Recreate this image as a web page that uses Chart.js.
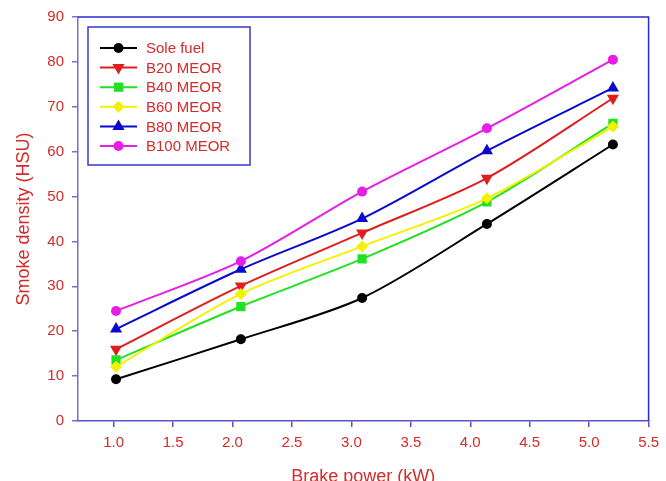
<!DOCTYPE html>
<html>
<head>
<meta charset="utf-8">
<style>
	html, body { margin: 0; padding: 0; background: #fff; overflow: hidden; }
	#wrap { width: 666px; height: 481px; }
</style>
<script src="https://cdn.jsdelivr.net/npm/chart.js@4"></script>
</head>
<body>
<div id="wrap"><canvas id="smoke-chart" width="666" height="481"></canvas></div>
<script>
'use strict';

// Brake power (kW) at each load step
var brakePower = [1.02, 2.07, 3.09, 4.14, 5.20];

// Smoke density (HSU) per fuel
var seriesNames = ['Sole fuel', 'B20 MEOR', 'B40 MEOR', 'B60 MEOR', 'B80 MEOR', 'B100 MEOR'];
var soleFuel = [9.3, 18.2, 27.4, 43.9, 61.6];
var b20 = [16.0, 30.1, 41.9, 54.1, 71.9];
var b40 = [13.6, 25.5, 36.1, 48.8, 66.3];
var b60 = [12.1, 28.3, 38.9, 49.6, 65.6];
var b80 = [20.5, 33.8, 45.1, 60.2, 74.2];
var b100 = [24.5, 35.6, 51.1, 65.2, 80.5];

var xTicks = [1.0, 1.5, 2.0, 2.5, 3.0, 3.5, 4.0, 4.5, 5.0, 5.5];
var yTicks = [0, 10, 20, 30, 40, 50, 60, 70, 80, 90];

var textRed = '#d42b2b';
var axisBlue = '#5454c4';
var frameBlue = '#2a2ad0';
var fontFamily = 'Arial, "Liberation Sans", sans-serif';

var styles = [
	{ color: '#000000', point: 'circle', rotation: 0, radius: 5 },
	{ color: '#e01e1e', point: 'triangle', rotation: 180, radius: 7 },
	{ color: '#22e022', point: 'rect', rotation: 0, radius: 6.5 },
	{ color: '#f2f200', point: 'rectRot', rotation: 0, radius: 6 },
	{ color: '#0a0acc', point: 'triangle', rotation: 0, radius: 7 },
	{ color: '#e61ee6', point: 'circle', rotation: 0, radius: 5 }
];
var allValues = [soleFuel, b20, b40, b60, b80, b100];

function toPoints(values) {
	return values.map(function(v, i) {
		return { x: brakePower[i], y: v };
	});
}

var datasets = allValues.map(function(values, i) {
	var s = styles[i];
	return {
		label: seriesNames[i],
		data: toPoints(values),
		borderColor: s.color,
		backgroundColor: s.color,
		borderWidth: 2,
		pointStyle: s.point,
		rotation: s.rotation,
		pointRadius: s.radius,
		pointBorderWidth: 0,
		tension: 0.3,
		order: 6 - i
	};
});

// top and right border of the plot frame
var framePlugin = {
	id: 'frame',
	beforeDatasetsDraw: function(chart) {
		var a = chart.chartArea;
		var ctx = chart.ctx;
		ctx.save();
		ctx.strokeStyle = frameBlue;
		ctx.lineWidth = 1.5;
		ctx.beginPath();
		ctx.moveTo(a.left, a.top);
		ctx.lineTo(a.right, a.top);
		ctx.lineTo(a.right, a.bottom);
		ctx.stroke();
		ctx.restore();
	}
};

// boxed legend drawn inside the plot area
var boxLegend = {
	id: 'boxLegend',
	afterDraw: function(chart) {
		var ctx = chart.ctx;
		var boxX = 88, boxY = 27, boxW = 162, boxH = 138;
		ctx.save();
		ctx.fillStyle = '#fff';
		ctx.fillRect(boxX, boxY, boxW, boxH);
		ctx.strokeStyle = '#3a3ac8';
		ctx.lineWidth = 1.5;
		ctx.strokeRect(boxX, boxY, boxW, boxH);
		ctx.font = '15px ' + fontFamily;
		ctx.textBaseline = 'middle';
		ctx.textAlign = 'left';
		chart.data.datasets.forEach(function(ds, i) {
			var y = 48 + i * 19.6;
			ctx.strokeStyle = ds.borderColor;
			ctx.lineWidth = 2;
			ctx.beginPath();
			ctx.moveTo(100, y);
			ctx.lineTo(137, y);
			ctx.stroke();
			ctx.fillStyle = ds.backgroundColor;
			Chart.helpers.drawPoint(ctx, {
				pointStyle: ds.pointStyle,
				radius: ds.pointRadius,
				rotation: ds.rotation,
				borderWidth: 0
			}, 118.5, y);
			ctx.fillStyle = textRed;
			ctx.fillText(ds.label, 146, y + 1);
		});
		ctx.restore();
	}
};

new Chart(document.getElementById('smoke-chart'), {
	type: 'line',
	data: { datasets: datasets },
	options: {
		responsive: false,
		animation: false,
		layout: { padding: { top: 17, right: 11, left: 0, bottom: 0 } },
		plugins: {
			legend: { display: false },
			tooltip: { enabled: false }
		},
		scales: {
			x: {
				type: 'linear',
				min: 0.7,
				max: 5.5,
				afterBuildTicks: function(scale) {
					scale.ticks = xTicks.map(function(v) { return { value: v }; });
				},
				afterFit: function(scale) { scale.height = 60; },
				border: { color: axisBlue, width: 1.5 },
				grid: { drawOnChartArea: false, tickLength: 6, color: axisBlue, lineWidth: 1.5 },
				ticks: {
					color: textRed,
					padding: 7,
					maxRotation: 0,
					font: { size: 15, family: fontFamily },
					callback: function(v) { return Number(v).toFixed(1); }
				},
				title: {
					display: true,
					text: 'Brake power (kW)',
					color: textRed,
					font: { size: 18, family: fontFamily },
					padding: { top: 0, bottom: -7 }
				}
			},
			y: {
				min: 0,
				max: 90,
				afterBuildTicks: function(scale) {
					scale.ticks = yTicks.map(function(v) { return { value: v }; });
				},
				afterFit: function(scale) { scale.width = 78; },
				border: { color: '#7272c4', width: 1.5 },
				grid: { drawOnChartArea: false, tickLength: 6, color: '#7272c4', lineWidth: 1.5 },
				ticks: {
					color: textRed,
					padding: 8,
					font: { size: 15, family: fontFamily }
				},
				title: {
					display: true,
					text: 'Smoke density (HSU)',
					color: textRed,
					font: { size: 18, family: fontFamily },
					padding: { top: 13, bottom: 0 }
				}
			}
		}
	},
	plugins: [framePlugin, boxLegend]
});
</script>
</body>
</html>
